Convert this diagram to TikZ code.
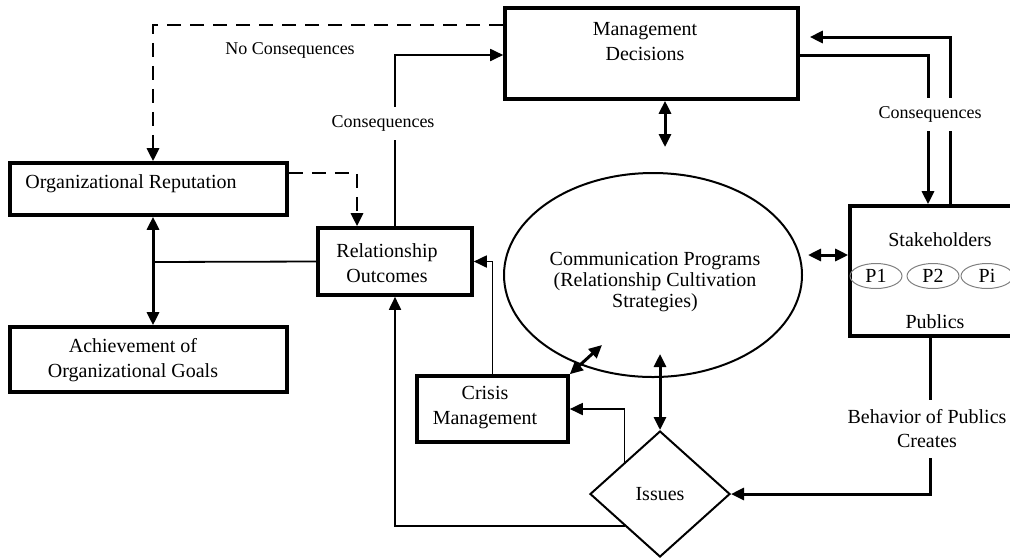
\documentclass[tikz,border=0pt]{standalone}
\usepackage{fontspec}
\setmainfont{Liberation Serif}
\usetikzlibrary{arrows.meta,shapes.geometric}

\begin{document}
\begin{tikzpicture}[x=0.5pt,y=-0.5pt]
\tikzset{ >={Triangle[width=6pt,length=6.5pt]}, inner sep=0pt,
  box/.style={draw, line width=1.8pt},
  txt/.style={align=center, font=\fontsize{10}{12.5}\selectfont},
  lbl/.style={fill=white, font=\small, inner xsep=2pt},
  conn/.style={line width=1.5pt},
  thin conn/.style={line width=0.9pt},
  dash conn/.style={line width=1.4pt, dash pattern=on 7pt off 4.5pt},
}

\useasboundingbox (0,0) rectangle (1010,558);

%\draw [lightgray, dashed] (0,0) grid[step=50] (1010,558);

\node [box, minimum width=146.5pt, minimum height=45.5pt] (mgmt)    at (651.5,53.5) {};
\node [box, minimum width=138.5pt, minimum height=26pt]   (orgrep)  at (148.5,189) {};
\node [box, minimum width=138.5pt, minimum height=32.5pt] (achieve) at (148.5,359.5) {};
\node [box, minimum width=77pt,    minimum height=33.5pt] (relout)  at (395,261.5) {};
\node [box, minimum width=75.5pt,  minimum height=33pt]   (crisis)  at (492.5,409) {};
\node [box, minimum width=83pt,    minimum height=65pt]   (stake)   at (933,271) {};

\node [draw, ellipse, line width=1pt, minimum width=149pt, minimum height=102pt] (comm) at (653,275) {};
\node [draw, diamond, line width=1pt, minimum width=70pt, minimum height=63pt, txt] (issues) at (660,494) {Issues};

\node [txt] (mgmtlbl)    at (645,42)  {Management\\Decisions};
\node [txt, anchor=west] (orgreplbl) at (25,184) {Organizational Reputation};
\node [txt] (achievelbl) at (133,360) {Achievement of\\Organizational Goals};
\node [txt] (reloutlbl)  at (387,263) {Relationship\\Outcomes};
\node [txt] (crisislbl)  at (485,408) {Crisis\\Management};
\node [txt, font=\fontsize{10}{10.5}\selectfont] (commlbl) at (655,282)
  {Communication Programs\\(Relationship Cultivation\\Strategies)};
\node [txt] (stakelbl)   at (940,240) {Stakeholders};
\node [txt] (publicslbl) at (935,322) {Publics};

\foreach \p/\x in {1/876, 2/933, i/987}
  \node [draw=gray, ellipse, line width=0.5pt, minimum width=26pt, minimum height=12.5pt, txt] (p\p) at (\x,276) {P\p};

% no consequences
\coordinate (nocorner) at (153,25);
\draw [dash conn, ->] (mgmt.west |- nocorner) -- (nocorner) -- (nocorner |- orgrep.north);
\coordinate (repcorner) at (357,173);
\draw [dash conn, ->] (orgrep.east |- repcorner) -- (repcorner) -- (repcorner |- relout.north);

% consequences
\coordinate (conscorner) at (395,55);
\draw [thin conn, ->] (relout.north) -- (conscorner) -- (conscorner -| mgmt.west);
\coordinate (downcorner) at (928,55);
\draw [conn, ->] (mgmt.east |- downcorner) -- (downcorner) -- (downcorner |- stake.north);
\coordinate (upcorner) at (950,37);
\draw [conn, ->, shorten >=5pt] (stake.north -| upcorner) -- (upcorner) -- (upcorner -| mgmt.east);

\coordinate (goalsx) at (153,262);
\draw [conn, <->] (orgrep.south -| goalsx) -- (achieve.north -| goalsx);
\draw [thin conn] (relout.west) -- (goalsx);

\coordinate (mgmtcomm) at (665,147);
\draw [conn, <->] (mgmt.south -| mgmtcomm) -- (mgmtcomm);
\coordinate (commstake) at (808,255);
\draw [conn, <->] (commstake) -- (commstake -| stake.west);
\coordinate (commiss) at (660,354);
\draw [conn, <->] (issues.north) -- (commiss);
\coordinate (commcris) at (602,345);
\draw [conn, <->] (crisis.north east) -- (commcris);

% behavior of publics
\coordinate (behavcorner) at (930,494);
\draw [conn, ->] (stake.south -| behavcorner) -- (behavcorner) -- (issues.east);

\draw [thin conn, ->] (issues.north west) |- (crisis.east);
\draw [thin conn, ->] (crisis.north) |- (relout.east);
\draw [thin conn, ->] (issues.south west) -| (relout.south);

\node [lbl] (nocons) at (290,50) {No Consequences};
\node [lbl, minimum height=16.5pt] (consleft)  at (383,123) {Consequences};
\node [lbl, minimum height=16.5pt] (consright) at (930,114) {Consequences};
\node [lbl, align=center, font=\fontsize{10}{12}\selectfont, minimum height=29pt] (behav) at (927,429)
  {Behavior of Publics\\Creates};

\end{tikzpicture}
\end{document}
